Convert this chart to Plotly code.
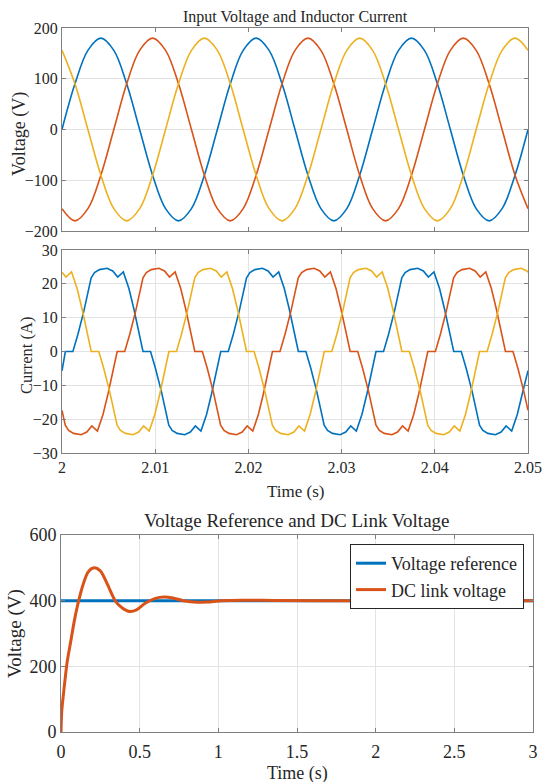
import plotly.graph_objects as go

# ---------------- Data: input phase voltages (V) ----------------
t_v = [2.00000, 2.00139, 2.00278, 2.00417, 2.00556, 2.00694, 2.00833, 2.00972, 2.01111, 2.01250,
       2.01389, 2.01528, 2.01667, 2.01806, 2.01944, 2.02083, 2.02222, 2.02361, 2.02500, 2.02639,
       2.02778, 2.02917, 2.03056, 2.03194, 2.03333, 2.03472, 2.03611, 2.03750, 2.03889, 2.04028,
       2.04167, 2.04306, 2.04444, 2.04583, 2.04722, 2.04861, 2.05000]
va = [0, 90, 156, 180, 156, 90, 0, -90, -156, -180, -156, -90,
      0, 90, 156, 180, 156, 90, 0, -90, -156, -180, -156, -90,
      0, 90, 156, 180, 156, 90, 0, -90, -156, -180, -156, -90, 0]
vb = [-156, -180, -156, -90, 0, 90, 156, 180, 156, 90, 0, -90,
      -156, -180, -156, -90, 0, 90, 156, 180, 156, 90, 0, -90,
      -156, -180, -156, -90, 0, 90, 156, 180, 156, 90, 0, -90, -156]
vc = [156, 90, 0, -90, -156, -180, -156, -90, 0, 90, 156, 180,
      156, 90, 0, -90, -156, -180, -156, -90, 0, 90, 156, 180,
      156, 90, 0, -90, -156, -180, -156, -90, 0, 90, 156, 180, 156]

# ---------------- Data: inductor currents (A) ----------------
t_ia = [2.00000,
        2.00036, 2.00117, 2.00171, 2.00235, 2.00313, 2.00349, 2.00402, 2.00484, 2.00544, 2.00598, 2.00658, 2.00718, 2.00772,
        2.00869, 2.00950, 2.01004, 2.01068, 2.01146, 2.01182, 2.01235, 2.01317, 2.01377, 2.01431, 2.01491, 2.01551, 2.01605,
        2.01703, 2.01784, 2.01838, 2.01902, 2.01980, 2.02016, 2.02069, 2.02151, 2.02211, 2.02265, 2.02325, 2.02385, 2.02439,
        2.02536, 2.02617, 2.02671, 2.02735, 2.02813, 2.02849, 2.02902, 2.02984, 2.03044, 2.03098, 2.03158, 2.03218, 2.03272,
        2.03369, 2.03450, 2.03504, 2.03568, 2.03646, 2.03682, 2.03735, 2.03817, 2.03877, 2.03931, 2.03991, 2.04051, 2.04105,
        2.04203, 2.04284, 2.04338, 2.04402, 2.04480, 2.04516, 2.04569, 2.04651, 2.04711, 2.04765, 2.04825, 2.04885, 2.04939,
        2.05000]
ia = [-5.7,
      0, 0, 5.1, 12, 21.8, 23.3, 24.2, 24.6, 23.8, 22.0, 23.5, 18.6, 12.5,
      0, 0, -5.1, -12, -21.8, -23.3, -24.2, -24.6, -23.8, -22.0, -23.5, -18.6, -12.5,
      0, 0, 5.1, 12, 21.8, 23.3, 24.2, 24.6, 23.8, 22.0, 23.5, 18.6, 12.5,
      0, 0, -5.1, -12, -21.8, -23.3, -24.2, -24.6, -23.8, -22.0, -23.5, -18.6, -12.5,
      0, 0, 5.1, 12, 21.8, 23.3, 24.2, 24.6, 23.8, 22.0, 23.5, 18.6, 12.5,
      0, 0, -5.1, -12, -21.8, -23.3, -24.2, -24.6, -23.8, -22.0, -23.5, -18.6, -12.5,
      -5.7]

t_ib = [2.00000,
        2.00035, 2.00071, 2.00124, 2.00206, 2.00266, 2.00320, 2.00380, 2.00440, 2.00494,
        2.00592, 2.00673, 2.00727, 2.00791, 2.00869, 2.00905, 2.00958, 2.01040, 2.01100, 2.01154, 2.01214, 2.01274, 2.01328,
        2.01425, 2.01506, 2.01560, 2.01624, 2.01702, 2.01738, 2.01791, 2.01873, 2.01933, 2.01987, 2.02047, 2.02107, 2.02161,
        2.02258, 2.02339, 2.02393, 2.02457, 2.02535, 2.02571, 2.02624, 2.02706, 2.02766, 2.02820, 2.02880, 2.02940, 2.02994,
        2.03092, 2.03173, 2.03227, 2.03291, 2.03369, 2.03405, 2.03458, 2.03540, 2.03600, 2.03654, 2.03714, 2.03774, 2.03828,
        2.03925, 2.04006, 2.04060, 2.04124, 2.04202, 2.04238, 2.04291, 2.04373, 2.04433, 2.04487, 2.04547, 2.04607, 2.04661,
        2.04758, 2.04839, 2.04893, 2.04957,
        2.05000]
ib = [-17.4,
      -21.8, -23.3, -24.2, -24.6, -23.8, -22.0, -23.5, -18.6, -12.5,
      0, 0, 5.1, 12, 21.8, 23.3, 24.2, 24.6, 23.8, 22.0, 23.5, 18.6, 12.5,
      0, 0, -5.1, -12, -21.8, -23.3, -24.2, -24.6, -23.8, -22.0, -23.5, -18.6, -12.5,
      0, 0, 5.1, 12, 21.8, 23.3, 24.2, 24.6, 23.8, 22.0, 23.5, 18.6, 12.5,
      0, 0, -5.1, -12, -21.8, -23.3, -24.2, -24.6, -23.8, -22.0, -23.5, -18.6, -12.5,
      0, 0, 5.1, 12, 21.8, 23.3, 24.2, 24.6, 23.8, 22.0, 23.5, 18.6, 12.5,
      0, 0, -5.1, -12,
      -17.4]

t_ic = [2.00000,
        2.00042, 2.00102, 2.00162, 2.00216,
        2.00314, 2.00395, 2.00449, 2.00513, 2.00591, 2.00627, 2.00680, 2.00762, 2.00822, 2.00876, 2.00936, 2.00996, 2.01050,
        2.01147, 2.01228, 2.01282, 2.01346, 2.01424, 2.01460, 2.01513, 2.01595, 2.01655, 2.01709, 2.01769, 2.01829, 2.01883,
        2.01980, 2.02061, 2.02115, 2.02179, 2.02257, 2.02293, 2.02346, 2.02428, 2.02488, 2.02542, 2.02602, 2.02662, 2.02716,
        2.02814, 2.02895, 2.02949, 2.03013, 2.03091, 2.03127, 2.03180, 2.03262, 2.03322, 2.03376, 2.03436, 2.03496, 2.03550,
        2.03647, 2.03728, 2.03782, 2.03846, 2.03924, 2.03960, 2.04013, 2.04095, 2.04155, 2.04209, 2.04269, 2.04329, 2.04383,
        2.04480, 2.04561, 2.04615, 2.04679, 2.04757, 2.04793, 2.04846, 2.04928, 2.04988,
        2.05000]
ic = [23.4,
      22.0, 23.5, 18.6, 12.5,
      0, 0, -5.1, -12, -21.8, -23.3, -24.2, -24.6, -23.8, -22.0, -23.5, -18.6, -12.5,
      0, 0, 5.1, 12, 21.8, 23.3, 24.2, 24.6, 23.8, 22.0, 23.5, 18.6, 12.5,
      0, 0, -5.1, -12, -21.8, -23.3, -24.2, -24.6, -23.8, -22.0, -23.5, -18.6, -12.5,
      0, 0, 5.1, 12, 21.8, 23.3, 24.2, 24.6, 23.8, 22.0, 23.5, 18.6, 12.5,
      0, 0, -5.1, -12, -21.8, -23.3, -24.2, -24.6, -23.8, -22.0, -23.5, -18.6, -12.5,
      0, 0, 5.1, 12, 21.8, 23.3, 24.2, 24.6, 23.8,
      23.4]

# ---------------- Data: DC link voltage (V) ----------------
t_ref = [0, 3]
v_ref = [400, 400]
t_dc = [0, 0.005, 0.018, 0.04, 0.062, 0.084, 0.106, 0.139, 0.172, 0.21, 0.25, 0.293, 0.348,
        0.392, 0.436, 0.48, 0.535, 0.60, 0.656, 0.711, 0.777, 0.865, 0.93, 1.02, 1.15, 1.37, 1.8, 3.0]
v_dc = [0, 65, 126, 216, 276, 337, 387, 447, 487, 500, 491, 452, 397,
        377, 367, 372, 392, 407, 411, 408, 400, 395, 396, 400, 401.5, 400.5, 400, 400]

t_ticks_top = [2, 2.01, 2.02, 2.03, 2.04, 2.05]
t_ticklabels_top = ['2', '2.01', '2.02', '2.03', '2.04', '2.05']

BLUE, ORANGE, YELLOW = '#0072BD', '#D95319', '#EDB120'
FONT = 'Liberation Serif, Times New Roman, serif'
TXT = '#262626'
W, H = 542, 782

def fx(p):
    return p / W

def fy(p):
    return 1 - p / H

fig = go.Figure()
for y, c in [(va, BLUE), (vb, ORANGE), (vc, YELLOW)]:
    fig.add_trace(go.Scatter(x=t_v, y=y, mode='lines', line=dict(color=c, width=1.6, shape='spline'),
                             showlegend=False, xaxis='x', yaxis='y'))
for tt, y, c in [(t_ia, ia, BLUE), (t_ib, ib, ORANGE), (t_ic, ic, YELLOW)]:
    fig.add_trace(go.Scatter(x=tt, y=y, mode='lines', line=dict(color=c, width=1.6),
                             showlegend=False, xaxis='x2', yaxis='y2'))
fig.add_trace(go.Scatter(x=t_ref, y=v_ref, mode='lines', name='Voltage reference',
                         line=dict(color=BLUE, width=3), xaxis='x3', yaxis='y3'))
fig.add_trace(go.Scatter(x=t_dc, y=v_dc, mode='lines', name='DC link voltage',
                         line=dict(color=ORANGE, width=3, shape='spline', smoothing=0.8), xaxis='x3', yaxis='y3'))

common = dict(showline=True, linecolor='#808080', linewidth=1, mirror='ticks', ticks='inside',
              ticklen=4, tickcolor='#808080', showgrid=True, gridcolor='#e3e3e3', gridwidth=1,
              zeroline=False, automargin=False,
              tickfont=dict(family=FONT, size=16, color=TXT))
big = dict(common, tickfont=dict(family=FONT, size=18, color=TXT))


def ann(text, x, y, size, angle=0):
    return dict(text=text, x=fx(x), y=fy(y), xref='paper', yref='paper', xanchor='center',
                yanchor='middle', textangle=angle, showarrow=False,
                font=dict(family=FONT, size=size, color=TXT))


fig.update_layout(
    width=W, height=H, margin=dict(l=0, r=0, t=0, b=0),
    paper_bgcolor='white', plot_bgcolor='white',
    font=dict(family=FONT, color=TXT),
    xaxis=dict(common, domain=[fx(62), fx(528)], range=[2, 2.05], tickvals=t_ticks_top,
               showticklabels=False, showgrid=False, anchor='y'),
    yaxis=dict(common, domain=[fy(231), fy(28)], range=[-200, 200], dtick=100, anchor='x'),
    xaxis2=dict(common, domain=[fx(62), fx(528)], range=[2, 2.05], tickvals=t_ticks_top,
                ticktext=t_ticklabels_top, anchor='y2'),
    yaxis2=dict(common, domain=[fy(453), fy(250)], range=[-30, 30], dtick=10, anchor='x2'),
    xaxis3=dict(big, domain=[fx(61), fx(533)], range=[0, 3], dtick=0.5, anchor='y3', ticklabelstandoff=3),
    yaxis3=dict(big, domain=[fy(732), fy(535)], range=[0, 600], dtick=200, anchor='x3'),
    legend=dict(x=fx(524), xanchor='right', y=fy(544), yanchor='top', bgcolor='white',
                bordercolor=TXT, borderwidth=1, font=dict(family=FONT, size=18, color=TXT),
                tracegroupgap=0, itemwidth=30),
    annotations=[
        ann('Input Voltage and Inductor Current', 295, 17, 16),
        ann('Voltage (V)', 20, 134, 18, -90),
        ann('Current (A)', 26, 356, 16.5, -90),
        ann('Time (s)', 295, 492, 17),
        ann('Voltage Reference and DC Link Voltage', 297, 520, 19),
        ann('Voltage (V)', 15, 634, 19, -90),
        ann('Time (s)', 297, 773, 18),
    ],
)

fig.write_html('out.html', config={'displayModeBar': False},
               post_script="document.body.style.margin='0';document.body.style.padding='0';"
                           "document.documentElement.style.overflow='hidden';")
